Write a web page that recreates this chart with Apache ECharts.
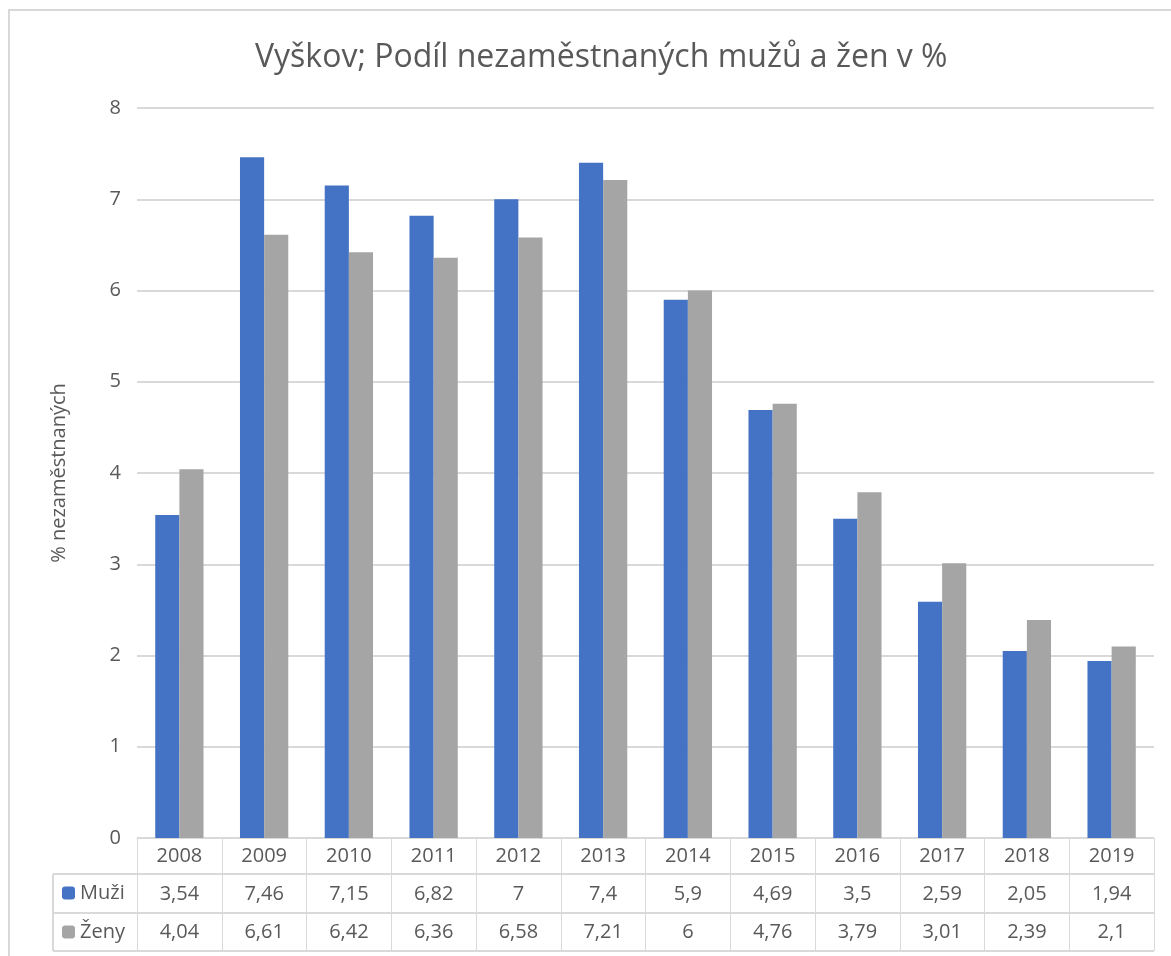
<!DOCTYPE html>
<html>
<head>
<meta charset="utf-8">
<script src="https://cdn.jsdelivr.net/npm/echarts@6/dist/echarts.min.js"></script>
<style>
  html, body { margin: 0; padding: 0; background: #fff; }
  #main { width: 1171px; height: 956px; }
</style>
</head>
<body>
<div id="main"></div>
<script>
var years = ['2008', '2009', '2010', '2011', '2012', '2013', '2014', '2015', '2016', '2017', '2018', '2019'];
var muzi = [3.54, 7.46, 7.15, 6.82, 7, 7.4, 5.9, 4.69, 3.5, 2.59, 2.05, 1.94];
var zeny = [4.04, 6.61, 6.42, 6.36, 6.58, 7.21, 6, 4.76, 3.79, 3.01, 2.39, 2.1];
var yTicks = [0, 1, 2, 3, 4, 5, 6, 7, 8];

var txt = '#595959';
var lineCol = '#D9D9D9';
var font = 'Open Sans';

// czech decimal comma
function cz(v) { return String(v).replace('.', ','); }

var myChart = echarts.init(document.getElementById('main'));

var gridLeft = 137, gridRight = 1154, axisY = 838;
var row1 = 874, row2 = 913, row3 = 951, tableLeft = 53;

myChart.setOption({
  backgroundColor: '#fff',
  textStyle: { fontFamily: font, color: txt },
  title: {
    text: 'Vyškov; Podíl nezaměstnaných mužů a žen v %',
    left: 250,
    top: 37,
    textStyle: { fontFamily: font, fontSize: 32, fontWeight: 'normal', color: txt }
  },
  legend: [{
    data: ['Muži'],
    left: 62, top: row1 + 9,
    padding: 0,
    itemWidth: 13, itemHeight: 13, itemGap: 8,
    selectedMode: false,
    textStyle: { fontFamily: font, fontSize: 20, color: txt }
  }, {
    data: ['Ženy'],
    left: 62, top: row2 + 9,
    padding: 0,
    itemWidth: 13, itemHeight: 13, itemGap: 8,
    selectedMode: false,
    textStyle: { fontFamily: font, fontSize: 20, color: txt }
  }],
  grid: { left: gridLeft, right: 1171 - gridRight, top: 108, bottom: 956 - axisY },
  xAxis: {
    type: 'category',
    data: years,
    axisLine: { show: true, lineStyle: { color: lineCol, width: 1 } },
    axisTick: { show: true, interval: 0, length: row3 - axisY, lineStyle: { color: lineCol, width: 1 } },
    axisLabel: {
      interval: 0,
      margin: -1,
      formatter: function (v, i) {
        return '{a|' + v + '}\n{a|' + cz(muzi[i]) + '}\n{a|' + cz(zeny[i]) + '}';
      },
      rich: { a: { fontFamily: font, fontSize: 20, color: txt, lineHeight: 38 } }
    }
  },
  yAxis: {
    type: 'value',
    min: yTicks[0],
    max: yTicks[yTicks.length - 1],
    interval: 1,
    name: '% nezaměstnaných',
    nameLocation: 'middle',
    nameGap: 68,
    nameTextStyle: { fontFamily: font, fontSize: 20, color: txt },
    axisLine: { show: false },
    axisTick: { show: false },
    axisLabel: { fontFamily: font, fontSize: 20, color: txt, margin: 16 },
    splitLine: { lineStyle: { color: lineCol, width: 2 } }
  },
  series: [{
    name: 'Muži',
    type: 'bar',
    data: muzi,
    itemStyle: { color: '#4472C4' },
    barGap: '0%',
    barCategoryGap: '43%'
  }, {
    name: 'Ženy',
    type: 'bar',
    data: zeny,
    itemStyle: { color: '#A5A5A5' }
  }],
  graphic: [
    { type: 'rect', shape: { x: 9, y: 10, width: 1180, height: 960 }, style: { fill: 'none', stroke: lineCol, lineWidth: 2 }, silent: true },
    { type: 'line', shape: { x1: tableLeft, y1: row1, x2: gridRight, y2: row1 }, style: { stroke: lineCol, lineWidth: 2 } },
    { type: 'line', shape: { x1: tableLeft, y1: row2, x2: gridRight, y2: row2 }, style: { stroke: lineCol, lineWidth: 2 } },
    { type: 'line', shape: { x1: tableLeft, y1: row3, x2: gridRight, y2: row3 }, style: { stroke: lineCol, lineWidth: 2 } },
    { type: 'line', shape: { x1: tableLeft, y1: row1, x2: tableLeft, y2: row3 }, style: { stroke: lineCol, lineWidth: 2 } }
  ]
});
</script>
</body>
</html>
